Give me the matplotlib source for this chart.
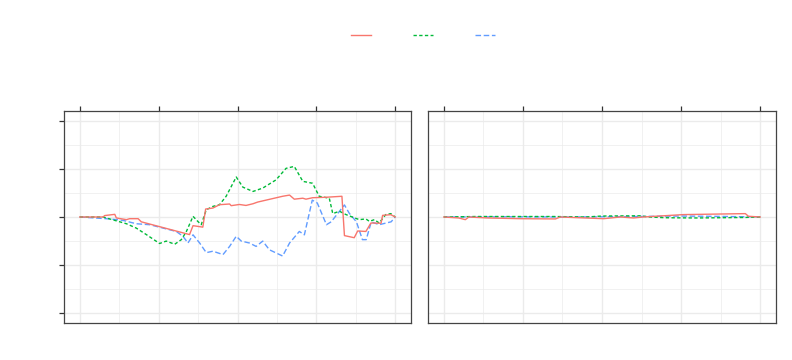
import matplotlib
matplotlib.use("Agg")
import matplotlib.pyplot as plt
from matplotlib.lines import Line2D
import numpy as np

# ---- data ----
# Left panel
red_x = [0, 7.4, 7.9, 11.1, 11.6, 14.8, 15.8, 18.5, 19.5, 34.8, 35.9, 39.0, 39.9, 42.2, 44.3, 47.5,
         48.0, 50.6, 52.7, 54.9, 56.4, 64.3, 66.5, 68.0, 70.7, 71.7, 73.8, 78.1, 83.1, 83.9, 87.0,
         88.1, 90.7, 92.3, 95.5, 96.0, 98.6, 100]
red_y = [0, 0, 0.03, 0.055, -0.02, -0.055, -0.035, -0.035, -0.10, -0.365, -0.18, -0.21, 0.165,
         0.186, 0.255, 0.27, 0.235, 0.26, 0.24, 0.275, 0.31, 0.43, 0.455, 0.37, 0.39, 0.37, 0.40,
         0.41, 0.43, -0.386, -0.43, -0.29, -0.30, -0.124, -0.13, 0.034, 0.048, 0]

green_x = [0, 7.4, 9.5, 14.8, 17.9, 21.1, 25.3, 27.4, 30.1, 32.2, 33.8, 35.9, 37.4, 38.5, 40.1,
           42.2, 44.3, 46.4, 49.6, 51.7, 54.9, 58.0, 62.2, 65.4, 68.0, 70.7, 73.8, 75.9, 79.1,
           80.2, 82.3, 84.4, 88.6, 90.7, 91.8, 93.4, 94.9, 97.0, 98.6, 100]
green_y = [0, 0, -0.04, -0.14, -0.23, -0.365, -0.55, -0.50, -0.565, -0.47, -0.30, 0.014, -0.09,
           -0.16, 0.15, 0.22, 0.255, 0.43, 0.83, 0.62, 0.53, 0.60, 0.77, 1.01, 1.05, 0.74, 0.70,
           0.43, 0.39, 0.07, 0.12, 0.05, -0.055, -0.04, -0.09, -0.055, -0.124, 0.05, 0.07, 0]

blue_x = [0, 9.5, 13.7, 17.9, 22.2, 26.4, 30.6, 32.7, 34.3, 35.9, 38.0, 40.1, 42.2, 45.4, 47.5,
          49.6, 51.2, 53.8, 55.9, 58.0, 60.1, 64.3, 66.5, 69.6, 71.2, 73.7, 75.3, 78.2, 79.7,
          83.9, 85.4, 87.7, 89.6, 90.8, 92.4, 94.9, 98.7, 100]
blue_y = [0, -0.04, -0.07, -0.14, -0.16, -0.23, -0.30, -0.40, -0.54, -0.37, -0.54, -0.74, -0.71,
          -0.78, -0.61, -0.40, -0.50, -0.54, -0.61, -0.50, -0.68, -0.81, -0.54, -0.30, -0.37,
          0.35, 0.29, -0.16, -0.10, 0.25, 0.08, -0.10, -0.47, -0.47, -0.10, -0.16, -0.10, 0]

# Right panel
red2_x = [0, 4.7, 6.8, 7.9, 13.7, 24.2, 35.3, 36.8, 50.5, 55.8, 60.0, 63.0, 75.8, 95.3, 96.3, 100]
red2_y = [0, -0.02, -0.055, 0, -0.02, -0.035, -0.04, 0, -0.035, 0, -0.02, 0, 0.05, 0.07, 0.015, 0]
green2_x = [0, 10, 35, 45, 50, 62, 65, 70, 80, 95, 100]
green2_y = [0, 0.01, 0.01, 0.0, 0.02, 0.025, 0.0, -0.015, -0.02, -0.01, 0]
blue2_x = [0, 20, 40, 60, 75, 90, 100]
blue2_y = [0, 0.005, 0.0, 0.01, 0.02, 0.01, 0]

x_ticks = [0, 25, 50, 75, 100]
y_ticks = [-2, -1, 0, 1, 2]

colors = ["#F8766D", "#00BA38", "#619CFF"]

fig = plt.figure(figsize=(7.92, 3.6), dpi=100)
W, H = 792, 360
axL = fig.add_axes([64 / W, (H - 323) / H, (411 - 64) / W, (323 - 111) / H])
axR = fig.add_axes([428 / W, (H - 323) / H, (776 - 428) / W, (323 - 111) / H])

lw = 1.0
green_ls = (0, (2.4, 1.7))
blue_ls = (0, (4.0, 1.9))

for ax, series in [(axL, [(red_x, red_y), (green_x, green_y), (blue_x, blue_y)]),
                   (axR, [(red2_x, red2_y), (green2_x, green2_y), (blue2_x, blue2_y)])]:
    ax.set_xlim(-5, 105)
    ax.set_ylim(-2.2, 2.2)
    ax.set_xticks(x_ticks)
    ax.set_yticks(y_ticks)
    ax.set_xticks([12.5, 37.5, 62.5, 87.5], minor=True)
    ax.set_yticks([-1.5, -0.5, 0.5, 1.5], minor=True)
    ax.grid(which="major", color="#EBEBEB", lw=1.0)
    ax.grid(which="minor", color="#EBEBEB", lw=0.5)
    ax.set_axisbelow(True)
    for s in ax.spines.values():
        s.set_color("#444444")
        s.set_linewidth(0.9)
    ax.xaxis.tick_top()
    ax.tick_params(axis="x", which="major", top=True, bottom=False, length=3.5, width=0.9,
                   color="#333333", labeltop=False, labelbottom=False)
    ax.tick_params(axis="both", which="minor", length=0)
    (rx, ry), (gx, gy), (bx, by) = series
    ax.plot(bx, by, color=colors[2], lw=lw, ls=blue_ls)
    ax.plot(gx, gy, color=colors[1], lw=lw, ls=green_ls)
    ax.plot(rx, ry, color=colors[0], lw=lw, ls="-")

axL.tick_params(axis="y", which="major", left=True, length=3.5, width=0.9, color="#333333",
                labelleft=False)
axR.tick_params(axis="y", which="major", left=False, right=False, labelleft=False)

handles = [Line2D([], [], color=colors[0], lw=lw, ls="-"),
           Line2D([], [], color=colors[1], lw=lw, ls=green_ls),
           Line2D([], [], color=colors[2], lw=lw, ls=blue_ls)]
fig.legend(handles, [" ", " ", " "], loc="center", bbox_to_anchor=(429 / W, 1 - 36 / H),
           ncol=3, frameon=False, handlelength=1.45, columnspacing=2.1, handletextpad=0.6,
           fontsize=10)

fig.savefig("out.png", dpi=100)
